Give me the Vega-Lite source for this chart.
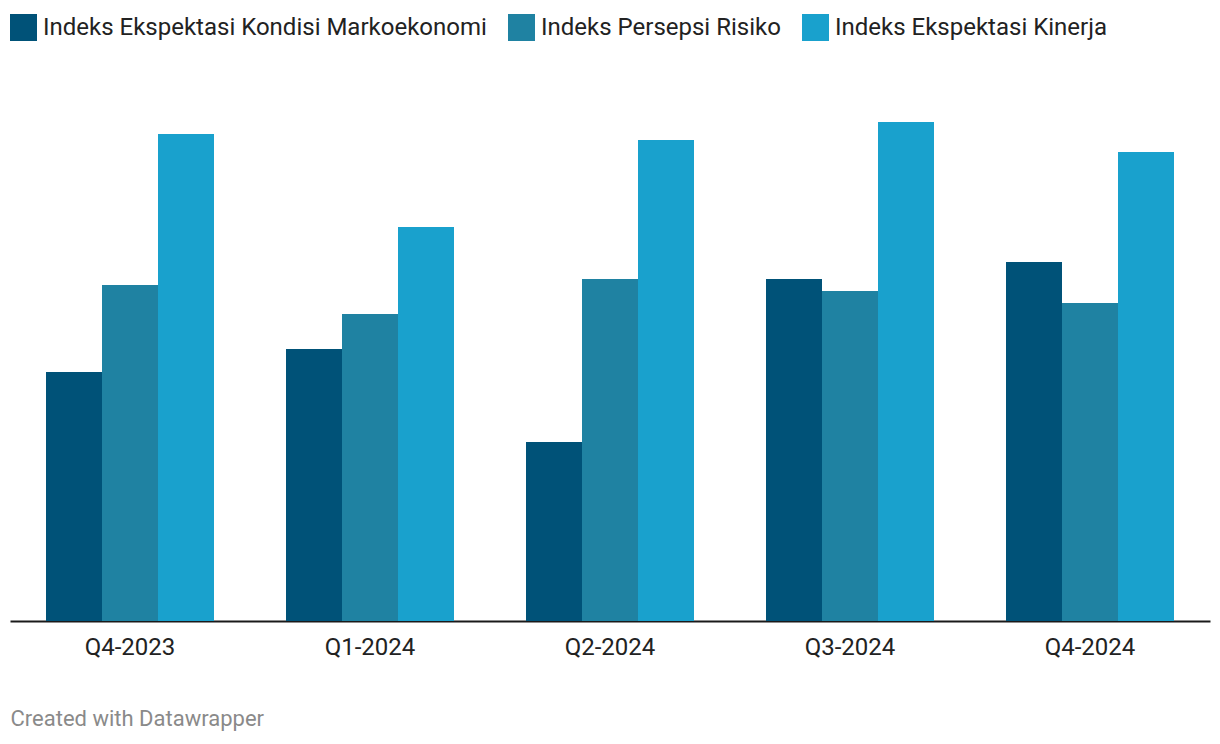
{
  "$schema": "https://vega.github.io/schema/vega-lite/v6.json",
  "width": 1200,
  "height": 521,
  "autosize": {"type": "none"},
  "padding": {"left": 10, "top": 100, "right": 10, "bottom": 123},
  "background": "white",
  "config": {
    "font": "Roboto",
    "view": {"stroke": null}
  },
  "data": {
    "values": [
      {"kuartal": "Q4-2023", "seri": "Indeks Ekspektasi Kondisi Markoekonomi", "nilai": 249},
      {"kuartal": "Q4-2023", "seri": "Indeks Persepsi Risiko", "nilai": 336},
      {"kuartal": "Q4-2023", "seri": "Indeks Ekspektasi Kinerja", "nilai": 487},
      {"kuartal": "Q1-2024", "seri": "Indeks Ekspektasi Kondisi Markoekonomi", "nilai": 272},
      {"kuartal": "Q1-2024", "seri": "Indeks Persepsi Risiko", "nilai": 307},
      {"kuartal": "Q1-2024", "seri": "Indeks Ekspektasi Kinerja", "nilai": 394},
      {"kuartal": "Q2-2024", "seri": "Indeks Ekspektasi Kondisi Markoekonomi", "nilai": 179},
      {"kuartal": "Q2-2024", "seri": "Indeks Persepsi Risiko", "nilai": 342},
      {"kuartal": "Q2-2024", "seri": "Indeks Ekspektasi Kinerja", "nilai": 481},
      {"kuartal": "Q3-2024", "seri": "Indeks Ekspektasi Kondisi Markoekonomi", "nilai": 342},
      {"kuartal": "Q3-2024", "seri": "Indeks Persepsi Risiko", "nilai": 330},
      {"kuartal": "Q3-2024", "seri": "Indeks Ekspektasi Kinerja", "nilai": 499},
      {"kuartal": "Q4-2024", "seri": "Indeks Ekspektasi Kondisi Markoekonomi", "nilai": 359},
      {"kuartal": "Q4-2024", "seri": "Indeks Persepsi Risiko", "nilai": 318},
      {"kuartal": "Q4-2024", "seri": "Indeks Ekspektasi Kinerja", "nilai": 469}
    ]
  },
  "mark": {"type": "bar"},
  "encoding": {
    "x": {
      "field": "kuartal",
      "type": "nominal",
      "sort": ["Q4-2023", "Q1-2024", "Q2-2024", "Q3-2024", "Q4-2024"],
      "scale": {"paddingInner": 0.3, "paddingOuter": 0.15},
      "axis": {
        "title": "Created with Datawrapper",
        "titleX": 0,
        "titleY": 97,
        "titleAlign": "left",
        "titleAnchor": null,
        "titleBaseline": "middle",
        "titleFontSize": 22,
        "titleFontWeight": "normal",
        "titleColor": "#8a8a8a",
        "titleFont": "Roboto",
        "labelAngle": 0,
        "labelFontSize": 24,
        "labelColor": "#222222",
        "labelPadding": 14,
        "ticks": false,
        "domainColor": "#1a1a1a",
        "domainWidth": 2,
        "grid": false
      }
    },
    "xOffset": {
      "field": "seri",
      "type": "nominal",
      "sort": ["Indeks Ekspektasi Kondisi Markoekonomi", "Indeks Persepsi Risiko", "Indeks Ekspektasi Kinerja"],
      "scale": {"paddingInner": 0, "paddingOuter": 0}
    },
    "y": {
      "field": "nilai",
      "type": "quantitative",
      "scale": {"domain": [0, 521], "nice": false},
      "axis": null
    },
    "color": {
      "field": "seri",
      "type": "nominal",
      "scale": {
        "domain": ["Indeks Ekspektasi Kondisi Markoekonomi", "Indeks Persepsi Risiko", "Indeks Ekspektasi Kinerja"],
        "range": ["#005278", "#1f82a2", "#19a1cd"]
      },
      "legend": {
        "title": null,
        "orient": "none",
        "legendX": 0,
        "legendY": -86,
        "direction": "horizontal",
        "symbolType": "square",
        "symbolSize": 729,
        "symbolStrokeWidth": 0,
        "symbolOpacity": 1,
        "labelFontSize": 24,
        "labelColor": "#222222",
        "labelOffset": 6,
        "columnPadding": 21,
        "padding": 0,
        "labelLimit": 600
      }
    }
  }
}
